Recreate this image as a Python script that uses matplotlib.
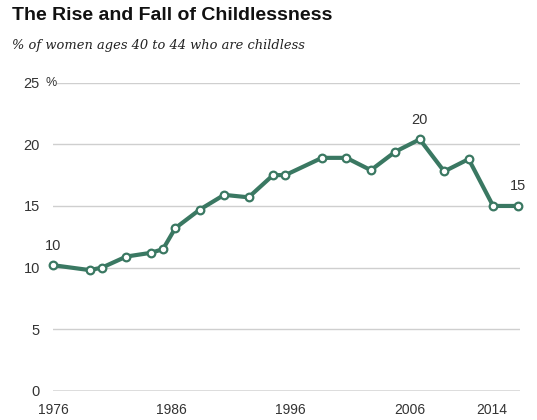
import matplotlib
matplotlib.use("Agg")
import matplotlib.pyplot as plt

# % of women ages 40 to 44 who are childless
years = [1976, 1979, 1980, 1982, 1984, 1985, 1986, 1988, 1990, 1992, 1994,
         1995, 1998, 2000, 2002, 2004, 2006, 2008, 2010, 2012, 2014]
childless = [10.2, 9.8, 10.0, 10.9, 11.2, 11.5, 13.2, 14.7, 15.9, 15.7, 17.5,
             17.5, 18.9, 18.9, 17.9, 19.4, 20.4, 17.8, 18.8, 15.0, 15.0]

label_years = [1976, 2006, 2014]
label_texts = ["10", "20", "15"]

xtick_labels = ["1976", "1986", "1996", "2006", "2014"]
ytick_values = [0, 5, 10, 15, 20, 25]

line_color = "#3a7862"

fig = plt.figure(figsize=(5.37, 4.2), dpi=100)
ax = fig.add_axes([53 / 537, 1 - 391 / 420, (520 - 53) / 537, (391 - 82.6) / 420])

ax.plot(years, childless, color=line_color, lw=3.0, marker="o", ms=5.5,
        mfc="white", mec=line_color, mew=1.6, clip_on=False, zorder=3)

for yr, txt in zip(label_years, label_texts):
    val = childless[years.index(yr)]
    ax.annotate(txt, (yr, val), xytext=(0, 9), textcoords="offset points",
                ha="center", va="bottom", fontsize=10.5, color="#333333",
                family="Liberation Sans")

ax.set_xlim(1976, 2014.2)
ax.set_ylim(0, 25)

# gridlines
for v in ytick_values[1:]:
    x0 = 1976.3 if v == 25 else 1976
    ax.plot([x0, 2014.2], [v, v], color="#cfcfcf", lw=1.0, zorder=1)
ax.axhline(0, color="#555555", lw=1.0, zorder=2)

for s in ax.spines.values():
    s.set_visible(False)

ax.set_yticks(ytick_values)
ax.set_yticklabels(["0", "5", "10", "15", "20", "25"])
ax.tick_params(axis="y", length=0, pad=9.5, labelsize=10.5, labelcolor="#333333")

# year labels sit slightly left of their data positions, as in the original
ax.set_xticks([1976.05, 1985.7, 1995.4, 2005.15, 2011.9])
ax.set_xticklabels(xtick_labels)
ax.tick_params(axis="x", length=0, pad=9, labelsize=10, labelcolor="#333333")
for lab in ax.get_xticklabels() + ax.get_yticklabels():
    lab.set_family("Liberation Sans")

ax.text(-0.017, 25, "%", transform=ax.get_yaxis_transform(), ha="left",
        va="center", fontsize=9, color="#333333", family="Liberation Sans")

fig.text(12 / 537, 1 - 15 / 420, "The Rise and Fall of Childlessness",
         fontsize=14, fontweight="bold", family="Liberation Sans",
         ha="left", va="center", color="#111111")
fig.text(12 / 537, 1 - 45 / 420, "% of women ages 40 to 44 who are childless",
         fontsize=9.4, style="italic", family="DejaVu Serif",
         ha="left", va="center", color="#222222")

fig.savefig("out.png", dpi=100)
